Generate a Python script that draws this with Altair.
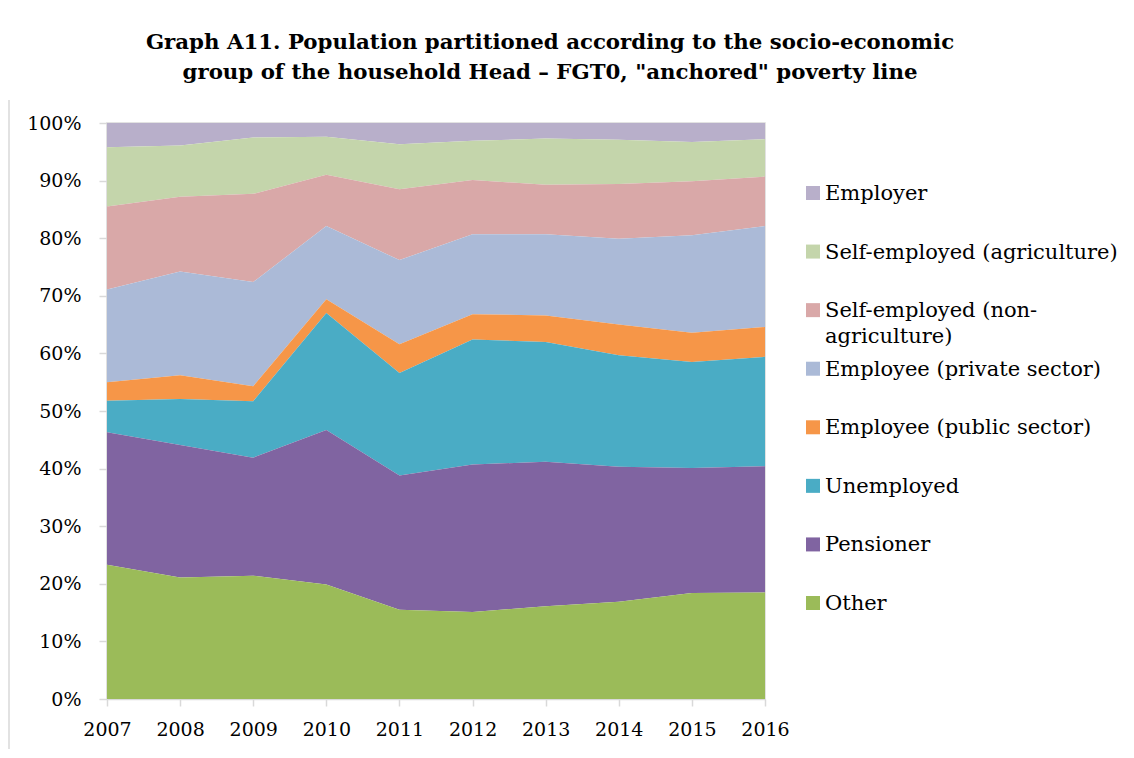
import altair as alt
import pandas as pd

years = [2007, 2008, 2009, 2010, 2011, 2012, 2013, 2014, 2015, 2016]
groups = ["Employer", "Self-employed (agriculture)", "Self-employed (non-agriculture)",
          "Employee (private sector)", "Employee (public sector)", "Unemployed",
          "Pensioner", "Other"]
legend_labels = ["Employer", "Self-employed (agriculture)", "Self-employed (non-\nagriculture)",
                 "Employee (private sector)", "Employee (public sector)", "Unemployed",
                 "Pensioner", "Other"]
colors = ["#b8afca", "#c4d5ab", "#d9a8a8", "#abbad7", "#f69648", "#4aacc5", "#8064a1", "#9bbb59"]

employer = [4.2, 3.9, 2.5, 2.4, 3.7, 3.1, 2.7, 2.9, 3.3, 2.8]
self_agri = [10.3, 8.9, 9.8, 6.6, 7.8, 6.8, 8.0, 7.7, 6.8, 6.5]
self_nonagri = [14.4, 13.0, 15.3, 8.9, 12.3, 9.4, 8.6, 9.5, 9.4, 8.6]
emp_private = [16.1, 18.0, 18.1, 12.7, 14.6, 13.9, 14.1, 14.9, 16.9, 17.5]
emp_public = [3.2, 4.1, 2.6, 2.4, 5.0, 4.4, 4.6, 5.3, 5.1, 5.2]
unemployed = [5.5, 8.0, 9.8, 20.3, 17.8, 21.7, 20.8, 19.4, 18.4, 19.0]
pensioner = [23.0, 23.0, 20.5, 26.8, 23.3, 25.6, 25.1, 23.4, 21.7, 21.9]
other = [23.3, 21.1, 21.4, 19.9, 15.5, 15.1, 16.1, 16.9, 18.4, 18.5]

series = [employer, self_agri, self_nonagri, emp_private, emp_public, unemployed, pensioner, other]
rows = []
for gi, (g, vals) in enumerate(zip(groups, series)):
    for y, v in zip(years, vals):
        rows.append({"year": y, "group": g, "value": v, "rank": len(groups) - gi})
df = pd.DataFrame(rows)
leg_df = pd.DataFrame({"group": groups, "label": legend_labels})

FONT = "DejaVu Serif"
color_scale = alt.Scale(domain=groups, range=colors)

area = alt.Chart(df).mark_area(opacity=1).encode(
    x=alt.X("year:Q", scale=alt.Scale(domain=[2007, 2016], nice=False),
            axis=alt.Axis(values=years, format="d", title=None, labelFontSize=19,
                          labelPadding=14, tickSize=7, grid=False, labelFlush=False)),
    y=alt.Y("value:Q", stack="normalize", scale=alt.Scale(domain=[0, 1]),
            axis=alt.Axis(format=".0%", title=None, values=[i / 10 for i in range(11)],
                          labelFontSize=19, tickSize=8, labelPadding=18, grid=False)),
    color=alt.Color("group:N", scale=color_scale, legend=None),
    order=alt.Order("rank:Q"),
)

leg_y = alt.Y("group:N", scale=alt.Scale(domain=groups, range=[70, 480], padding=0), axis=None)

leg_sym = alt.Chart(leg_df).mark_square(size=196, opacity=1).encode(
    x=alt.value(706), y=leg_y,
    color=alt.Color("group:N", scale=color_scale, legend=None),
)
leg_txt = alt.Chart(leg_df).mark_text(
    align="left", baseline="alphabetic", dy=7, font=FONT, fontSize=21,
    lineBreak="\n", lineHeight=26, color="black"
).encode(x=alt.value(718), y=leg_y, text="label:N")

frame = alt.Chart(pd.DataFrame({"a": [0]})).mark_rule(color="#d9d9d9", strokeWidth=1.5).encode(
    x=alt.value(-98), y=alt.value(-23), y2=alt.value(650)
)

chart = alt.layer(area, leg_sym, leg_txt, frame).resolve_scale(y="independent").properties(
    width=658, height=576,
    autosize=alt.AutoSizeParams(type="none"),
    padding={"left": 99, "top": 115, "right": 360, "bottom": 50},
    title=alt.Title(
        ["Graph A11. Population partitioned according to the socio-economic",
         "group of the household Head \u2013 FGT0, \"anchored\" poverty line"],
        anchor="middle", frame="group", dx=114, offset=16,
        font=FONT, fontSize=21.3, fontWeight="bold", color="black", lineHeight=30),
).configure_view(stroke="#d9d9d9", strokeWidth=1.5).configure_axis(
    labelFont=FONT, labelColor="black", domainColor="#d9d9d9", tickColor="#d9d9d9",
    domainWidth=1.5, tickWidth=1.5
)

chart.save("out.html", embed_options={"renderer": "svg", "actions": False})
